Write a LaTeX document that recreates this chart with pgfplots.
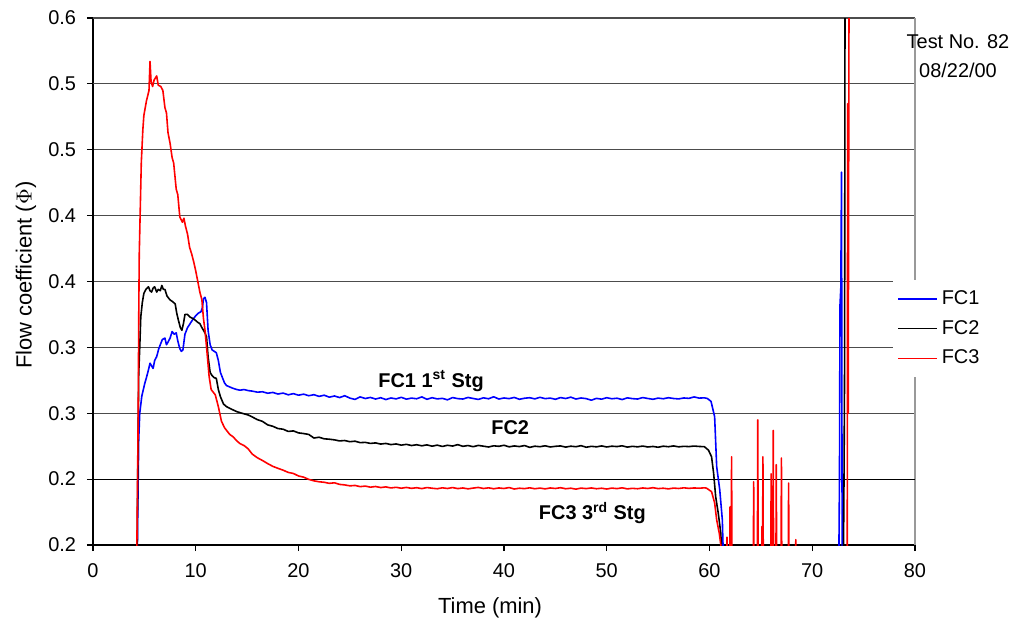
\documentclass[border=0pt]{standalone}
\usepackage{pgfplots}
\pgfplotsset{compat=1.18}
\usepackage{fontspec}
\setmainfont{Liberation Sans}

\definecolor{fcblue}{RGB}{0,0,255}
\definecolor{fcred}{RGB}{255,0,0}

\begin{document}
\begin{tikzpicture}
\path[use as bounding box] (-46.5bp,-42.5bp) rectangle (462.5bp,272.5bp);
\begin{axis}[
  scale only axis,
  width=411bp, height=263.5bp,
  xmin=0, xmax=80, ymin=0.2, ymax=0.6,
  axis x line*=bottom, axis y line*=left,
  axis line style={black, line width=0.6pt},
  xtick={0,10,...,80},
  ytick={0.2,0.25,0.3,0.35,0.4,0.45,0.5},
  yticklabels={0.2,0.2,0.3,0.3,0.4,0.4,0.5},
  extra y ticks={0.55,0.6},
  extra y tick labels={0.5,0.6},
  extra y tick style={grid style={black!35, line width=0.6pt}},
  tick align=outside,
  major tick length=3bp,
  tick style={black, line width=0.6pt},
  ymajorgrids,
  major grid style={black!70, line width=0.6pt},
  font=\fontsize{10}{12}\selectfont,
  /pgf/number format/assume math mode=true,
  xticklabel style={yshift=-3bp},
  yticklabel style={xshift=-2bp},
  xlabel={Time (min)},
  ylabel={Flow coefficient (\(\Phi\))},
  every axis x label/.style={at={(axis description cs:0.483,0)}, yshift=-31.5bp, anchor=center, font=\fontsize{11}{13}\selectfont},
  every axis y label/.style={at={(axis description cs:0,0.512)}, xshift=-33.5bp, rotate=90, anchor=center, font=\fontsize{11}{13}\selectfont},
  clip mode=individual,
  legend style={at={(rel axis cs:0.973,0.503)}, anchor=north west, draw=none, fill=white,
    font=\fontsize{10}{12}\selectfont, row sep=2.5bp, inner xsep=2bp, inner ysep=3bp},
  legend cell align=left,
  legend image code/.code={\draw[#1] (0bp,0bp) -- (19.5bp,0bp);},
  every axis plot/.append style={line width=0.8pt, line join=round},
]
% frame on the right and the darker 0.25 grid line
\draw[black!40, line width=0.6pt] (rel axis cs:1,0) -- (rel axis cs:1,1);
\draw[black, line width=0.6pt] (axis cs:0,0.25) -- (axis cs:80,0.25);

% FC1
\addplot[fcblue] coordinates {
(4.25,0.15) (4.35,0.22) (4.45,0.28) (4.55,0.30) (4.75,0.313) (4.9,0.318) (5.05,0.323) (5.2,0.327)
(5.4,0.333) (5.55,0.338) (5.7,0.336) (5.85,0.334) (6.0,0.340) (6.2,0.343) (6.4,0.349) (6.6,0.353)
(6.75,0.356) (7.0,0.357) (7.15,0.352) (7.3,0.354) (7.5,0.357) (7.7,0.362) (7.9,0.360) (8.1,0.361)
(8.25,0.355) (8.45,0.349) (8.6,0.347) (8.75,0.348) (8.95,0.360) (9.2,0.365) (9.45,0.368) (9.7,0.371)
(10.0,0.374) (10.25,0.376) (10.5,0.377) (10.65,0.380) (10.75,0.387) (10.9,0.388) (11.05,0.384)
(11.2,0.363) (11.4,0.352) (11.6,0.348) (11.8,0.347) (12.0,0.346) (12.2,0.340) (12.4,0.331)
(12.6,0.327) (12.8,0.323) (13.0,0.321) (13.3,0.320) (13.6,0.319) (14.0,0.318) (14.3,0.3175)
(14.7,0.318) (15.1,0.3172)
(15.5,0.3168) (16.0,0.3160) (16.5,0.3163) (17.0,0.3152) (17.5,0.3158) (18.0,0.3146) (18.5,0.3153)
(19.0,0.3140) (19.5,0.3149) (20.0,0.3137) (20.5,0.3145) (21.0,0.3133) (21.5,0.3141) (22.0,0.3128)
(22.5,0.3137) (23.0,0.3122) (23.5,0.3131) (24.0,0.3119) (24.5,0.3133) (25.0,0.3115) (25.5,0.3105)
(26.0,0.3124) (26.5,0.3112) (27.0,0.3120) (27.5,0.3108) (28.0,0.3118) (28.5,0.3104) (29.0,0.3116)
(29.5,0.3109) (30.0,0.3121) (30.5,0.3107) (31.0,0.3115) (31.5,0.3110) (32.0,0.3124) (32.5,0.3106)
(33.0,0.3118) (33.5,0.3109) (34.0,0.3113) (34.5,0.3102) (35.0,0.3119) (35.5,0.3111) (36.0,0.3108)
(36.5,0.3120) (37.0,0.3112) (37.5,0.3105) (38.0,0.3117) (38.5,0.3110) (39.0,0.3125) (39.5,0.3108)
(40.0,0.3116) (40.5,0.3111) (41.0,0.3120) (41.5,0.3106) (42.0,0.3114) (42.5,0.3118) (43.0,0.3109)
(43.5,0.3121) (44.0,0.3111) (44.5,0.3115) (45.0,0.3106) (45.5,0.3119) (46.0,0.3112) (46.5,0.3122)
(47.0,0.3108) (47.5,0.3116) (48.0,0.3111) (48.5,0.3099) (49.0,0.3113) (49.5,0.3107) (50.0,0.3118)
(50.5,0.3110) (51.0,0.3114) (51.5,0.3104) (52.0,0.3117) (52.5,0.3111) (53.0,0.3108) (53.5,0.3119)
(54.0,0.3112) (54.5,0.3106) (55.0,0.3115) (55.5,0.3110) (56.0,0.3118) (56.5,0.3112) (57.0,0.3109)
(57.5,0.3116) (58.0,0.3113) (58.5,0.3124) (59.0,0.3115) (59.5,0.3117) (59.8,0.3112)
(60.15,0.309) (60.5,0.2974) (60.7,0.2595) (61.0,0.2417) (61.25,0.219) (61.35,0.19) (61.5,0.15)
(72.55,0.15) (72.65,0.25) (72.7,0.382) (72.78,0.395) (72.85,0.483) (72.9,0.24) (72.95,0.15)
};
\addlegendentry{FC1}

% FC2
\addplot[black] coordinates {
(4.25,0.15) (4.35,0.25) (4.45,0.33) (4.55,0.35) (4.65,0.373) (4.8,0.384) (4.95,0.391) (5.15,0.394)
(5.4,0.396) (5.55,0.393) (5.7,0.392) (5.85,0.395) (6.0,0.396) (6.2,0.392) (6.35,0.394) (6.55,0.393)
(6.7,0.397) (6.85,0.394) (7.0,0.394) (7.2,0.389) (7.5,0.386) (7.7,0.385) (8.0,0.383) (8.15,0.376)
(8.3,0.371) (8.5,0.365) (8.65,0.363) (8.8,0.368) (8.95,0.375) (9.2,0.375) (9.45,0.373) (9.7,0.372)
(9.9,0.371) (10.2,0.369) (10.4,0.368) (10.6,0.365) (10.75,0.363) (10.9,0.361) (11.05,0.358)
(11.2,0.343) (11.4,0.331) (11.55,0.329) (11.8,0.327) (12.0,0.3265) (12.2,0.318) (12.4,0.3126)
(12.7,0.307) (13.0,0.305) (13.5,0.303) (14.0,0.3012) (14.5,0.300) (15.1,0.2987)
(15.5,0.2972) (16.0,0.2951) (16.5,0.2938) (17.0,0.2912) (17.5,0.2901) (18.0,0.2884) (18.5,0.2879)
(19.0,0.2862) (19.5,0.2866) (20.0,0.2851) (20.5,0.2846) (21.0,0.2839) (21.5,0.2812) (22.0,0.2818)
(22.5,0.2806) (23.0,0.2803) (23.5,0.2798) (24.0,0.2790) (24.5,0.2793) (25.0,0.2784) (25.5,0.2788)
(26.0,0.2777) (26.5,0.2779) (27.0,0.2771) (27.5,0.2775) (28.0,0.2766) (28.5,0.2771) (29.0,0.2762)
(29.5,0.2767) (30.0,0.2758) (30.5,0.2764) (31.0,0.2755) (31.5,0.2761) (32.0,0.2753) (32.5,0.2760)
(33.0,0.2750) (33.5,0.2758) (34.0,0.2748) (34.5,0.2757) (35.0,0.2751) (35.5,0.2762) (36.0,0.2749)
(36.5,0.2755) (37.0,0.2746) (37.5,0.2756) (38.0,0.2750) (38.5,0.2744) (39.0,0.2753) (39.5,0.2749)
(40.0,0.2757) (40.5,0.2745) (41.0,0.2752) (41.5,0.2747) (42.0,0.2755) (42.5,0.2741) (43.0,0.2750)
(43.5,0.2746) (44.0,0.2753) (44.5,0.2744) (45.0,0.2749) (45.5,0.2752) (46.0,0.2743) (46.5,0.2750)
(47.0,0.2746) (47.5,0.2754) (48.0,0.2742) (48.5,0.2749) (49.0,0.2745) (49.5,0.2752) (50.0,0.2744)
(50.5,0.2750) (51.0,0.2747) (51.5,0.2753) (52.0,0.2743) (52.5,0.2749) (53.0,0.2745) (53.5,0.2751)
(54.0,0.2744) (54.5,0.2748) (55.0,0.2742) (55.5,0.2750) (56.0,0.2746) (56.5,0.2752) (57.0,0.2745)
(57.5,0.2749) (58.0,0.2747) (58.5,0.2751) (59.0,0.2748) (59.5,0.2746)
(59.9,0.2720) (60.2,0.267) (60.4,0.2546) (60.6,0.2367) (60.85,0.2243) (61.1,0.209) (61.2,0.19) (61.3,0.15)
(73.0,0.15) (73.1,0.26) (73.15,0.34) (73.2,0.70) (73.25,0.70)
};
\addlegendentry{FC2}

% FC3
\addplot[fcred] coordinates {
(4.2,0.15) (4.3,0.22) (4.4,0.30) (4.45,0.37) (4.5,0.42) (4.6,0.455) (4.7,0.49) (4.85,0.515)
(4.95,0.526) (5.2,0.537) (5.45,0.545) (5.55,0.567) (5.65,0.552) (5.8,0.548) (5.95,0.553) (6.2,0.556)
(6.35,0.549) (6.6,0.548) (6.8,0.545) (7.0,0.532) (7.15,0.528) (7.3,0.513) (7.5,0.505) (7.7,0.494)
(7.85,0.490) (8.1,0.470) (8.25,0.466) (8.45,0.449) (8.7,0.445) (8.85,0.448) (9.0,0.442) (9.2,0.436)
(9.4,0.426) (9.6,0.421) (9.8,0.415) (10.0,0.408) (10.2,0.400) (10.4,0.392) (10.6,0.386) (10.75,0.372)
(10.9,0.363) (11.1,0.346) (11.3,0.328) (11.5,0.318) (11.9,0.314) (12.2,0.305) (12.5,0.294)
(12.8,0.289) (13.0,0.287) (13.3,0.284) (13.65,0.282) (14.0,0.279) (14.3,0.277) (14.7,0.2755) (15.1,0.273)
(15.5,0.2690) (16.0,0.2662) (16.5,0.2641) (17.0,0.2618) (17.5,0.2597) (18.0,0.2582) (18.5,0.2568)
(19.0,0.2551) (19.5,0.2543) (20.0,0.2524) (20.5,0.2515) (21.0,0.2498) (21.5,0.2487) (22.0,0.2480)
(22.5,0.2476) (23.0,0.2468) (23.5,0.2472) (24.0,0.2460) (24.5,0.2456) (25.0,0.2449) (25.5,0.2452)
(26.0,0.2443) (26.5,0.2447) (27.0,0.2439) (27.5,0.2444) (28.0,0.2436) (28.5,0.2441) (29.0,0.2433)
(29.5,0.2438) (30.0,0.2431) (30.5,0.2437) (31.0,0.2430) (31.5,0.2435) (32.0,0.2428) (32.5,0.2436)
(33.0,0.2431) (33.5,0.2427) (34.0,0.2434) (34.5,0.2429) (35.0,0.2436) (35.5,0.2428) (36.0,0.2433)
(36.5,0.2426) (37.0,0.2432) (37.5,0.2437) (38.0,0.2429) (38.5,0.2434) (39.0,0.2427) (39.5,0.2433)
(40.0,0.2429) (40.5,0.2436) (41.0,0.2425) (41.5,0.2431) (42.0,0.2428) (42.5,0.2434) (43.0,0.2427)
(43.5,0.2432) (44.0,0.2426) (44.5,0.2433) (45.0,0.2429) (45.5,0.2435) (46.0,0.2427) (46.5,0.2431)
(47.0,0.2424) (47.5,0.2432) (48.0,0.2428) (48.5,0.2433) (49.0,0.2427) (49.5,0.2431) (50.0,0.2425)
(50.5,0.2432) (51.0,0.2428) (51.5,0.2434) (52.0,0.2426) (52.5,0.2430) (53.0,0.2427) (53.5,0.2433)
(54.0,0.2429) (54.5,0.2435) (55.0,0.2428) (55.5,0.2431) (56.0,0.2426) (56.5,0.2432) (57.0,0.2429)
(57.5,0.2434) (58.0,0.2430) (58.5,0.2433) (59.0,0.2431) (59.5,0.2434) (59.7,0.2432)
(60.2,0.2405) (60.5,0.232) (60.7,0.219) (60.95,0.209) (61.1,0.2) (61.2,0.15)
(61.65,0.15) (61.7,0.206) (61.75,0.15)
(61.95,0.15) (62.0,0.229) (62.05,0.15) (62.1,0.15) (62.15,0.267) (62.2,0.15)
(64.25,0.15) (64.3,0.248) (64.35,0.15) (64.65,0.15) (64.7,0.295) (64.75,0.15)
(65.05,0.15) (65.1,0.214) (65.15,0.15) (65.2,0.267) (65.25,0.15)
(65.95,0.15) (66.0,0.254) (66.05,0.15) (66.15,0.15) (66.2,0.287) (66.25,0.15)
(66.45,0.15) (66.5,0.261) (66.55,0.15) (66.95,0.15) (67.0,0.266) (67.05,0.15)
(67.65,0.15) (67.7,0.247) (67.75,0.15) (68.35,0.15) (68.4,0.204) (68.45,0.15)
(73.4,0.15) (73.45,0.535) (73.5,0.30) (73.6,0.70) (73.7,0.70)
};
\addlegendentry{FC3}

\node[font=\fontsize{10}{12}\selectfont\bfseries] at (axis cs:32.9,0.3245) {FC1 1\textsuperscript{st} Stg};
\node[font=\fontsize{10}{12}\selectfont\bfseries] at (axis cs:40.6,0.2888) {FC2};
\node[font=\fontsize{10}{12}\selectfont\bfseries] at (axis cs:48.6,0.2243) {FC3 3\textsuperscript{rd} Stg};
\end{axis}
\node[font=\fontsize{10}{12}\selectfont] at (432.5bp,251.5bp) {Test No. 82};
\node[font=\fontsize{10}{12}\selectfont] at (432.5bp,237.5bp) {08/22/00};
\end{tikzpicture}
\end{document}
